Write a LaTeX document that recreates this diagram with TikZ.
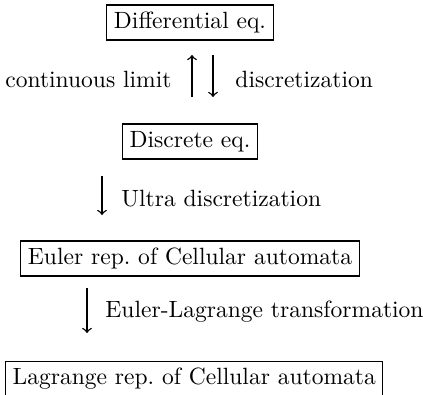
\documentclass[tikz,border=0pt]{standalone}
\usepackage{tikz}
\begin{document}
\begin{tikzpicture}[x=0.425pt,y=-0.425pt,
  eqbox/.style={draw,line width=0.45pt,inner sep=3pt,text height=6.94pt,text depth=1.94pt},
  lbl/.style={inner sep=0pt},
  conn/.style={-to,line width=0.6pt}]
\useasboundingbox (0,0) rectangle (423,394);
\node[eqbox] (de) at (190,22.5) {Differential eq.};
\node[eqbox] (dis) at (190,141.5) {Discrete eq.};
\node[eqbox] (eu) at (190,258.5) {Euler rep.\ of Cellular automata};
\node[eqbox,anchor=north west] (la) at (5,361) {Lagrange rep.\ of Cellular automata};
% labels
\node[lbl,anchor=base east] (cl) at (172,87) {continuous limit};
\node[lbl,anchor=base west] (dz) at (235,87) {discretization};
\node[lbl,anchor=base west] (ud) at (121,206.5) {Ultra discretization};
\node[lbl,anchor=base west] (el) at (105,317) {Euler-Lagrange transformation};
% arrow ends
\coordinate (a1s) at (192,97);  \coordinate (a1e) at (192,55);
\coordinate (a2s) at (213,55);  \coordinate (a2e) at (213,97);
\coordinate (a3s) at (102,176); \coordinate (a3e) at (102,215);
\coordinate (a4s) at (87,288);  \coordinate (a4e) at (87,333);
\draw[conn] (a1s) -- (a1e);
\draw[conn] (a2s) -- (a2e);
\draw[conn] (a3s) -- (a3e);
\draw[conn] (a4s) -- (a4e);
\end{tikzpicture}
\end{document}
